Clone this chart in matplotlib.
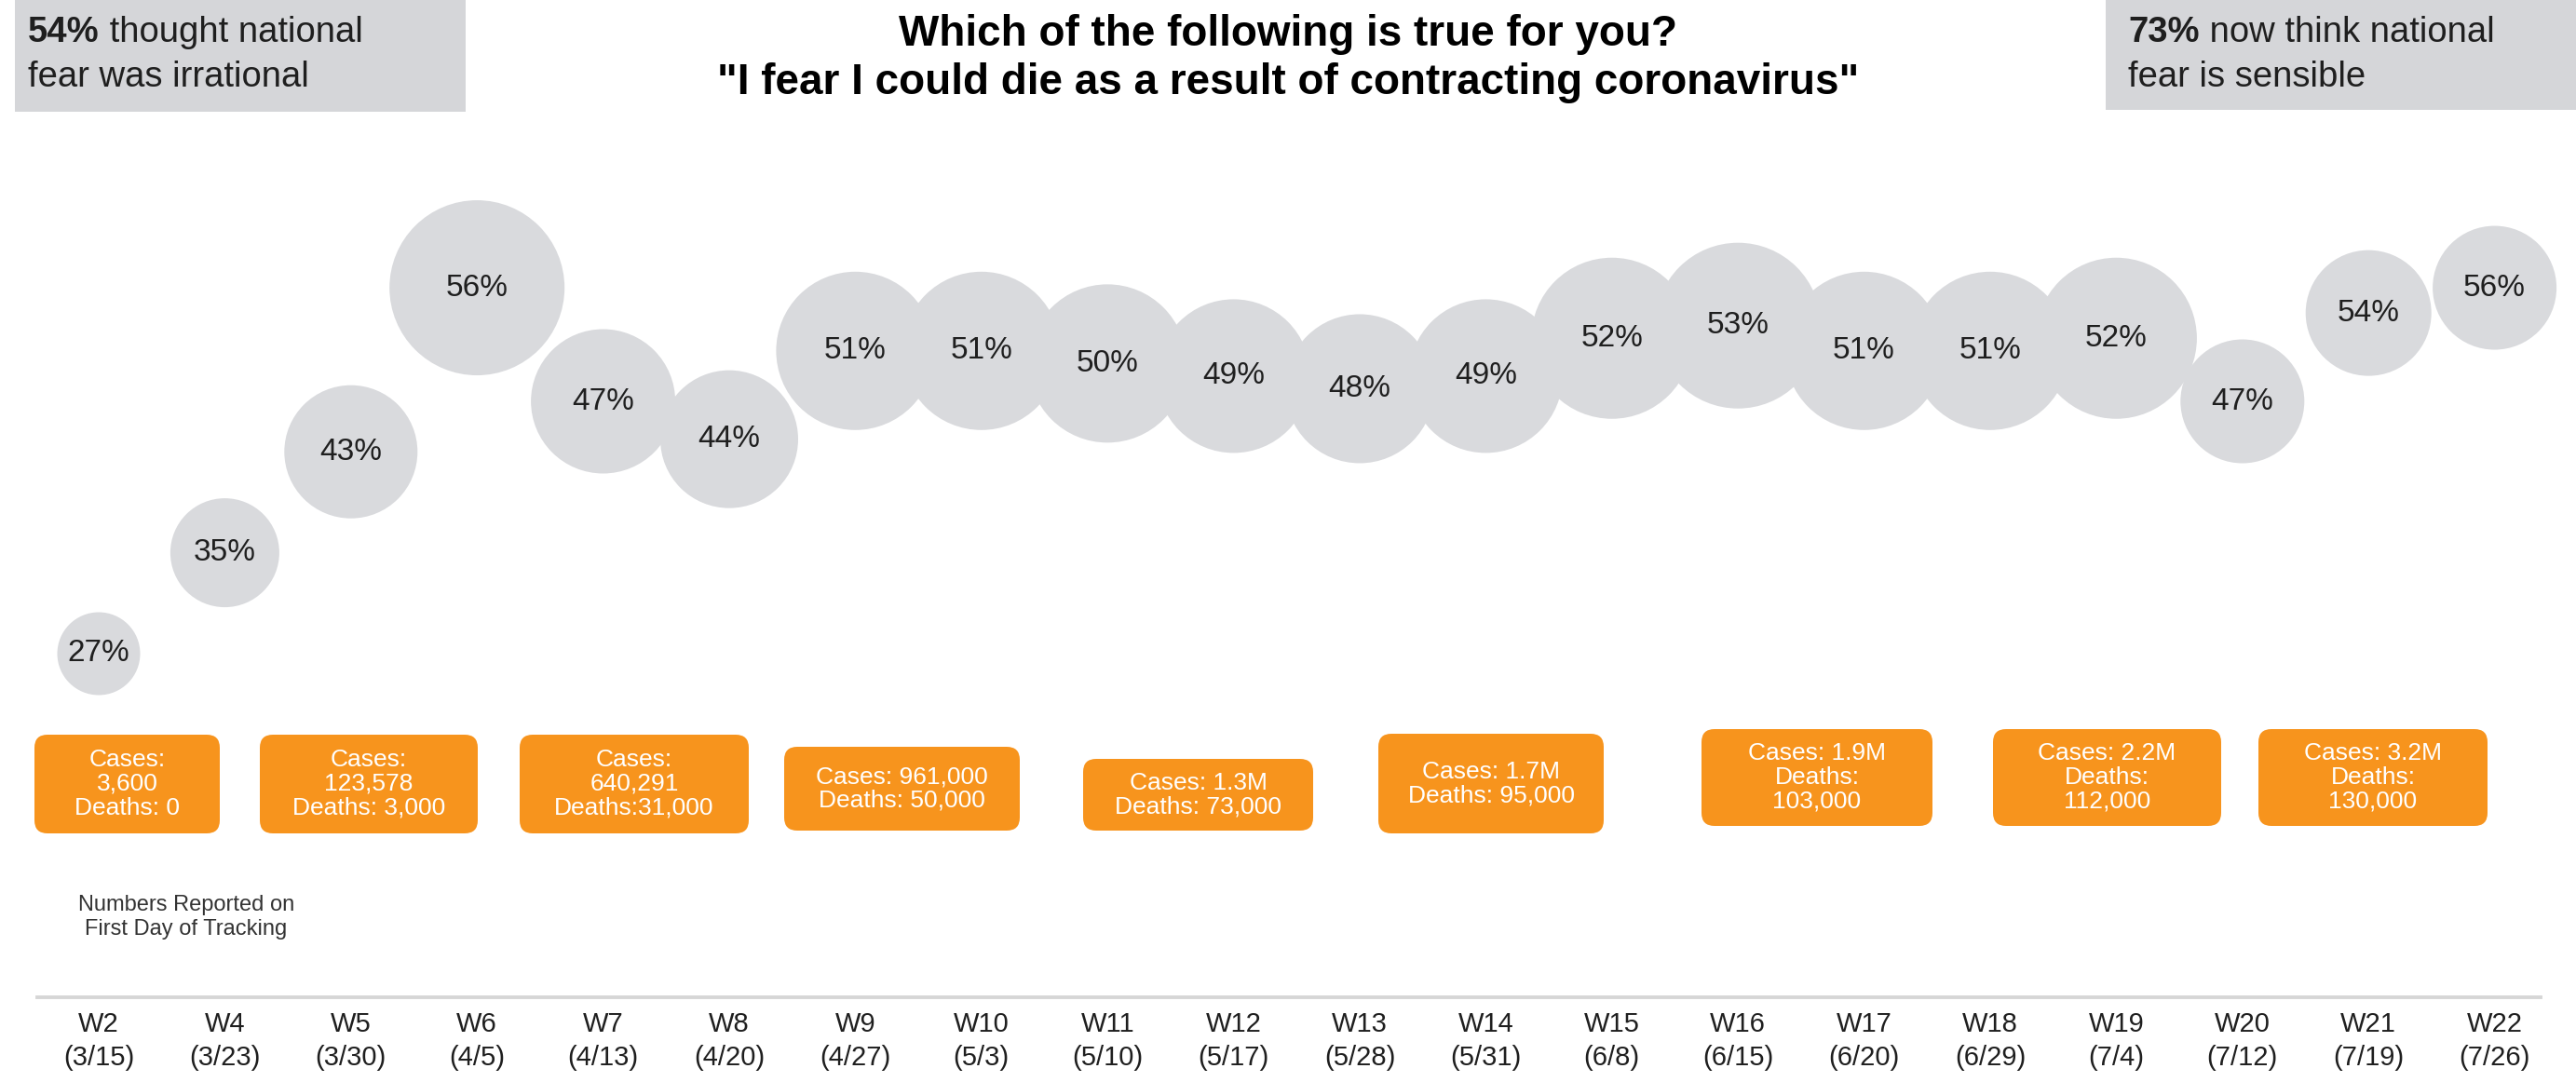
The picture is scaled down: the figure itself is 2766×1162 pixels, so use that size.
import numpy as np
import matplotlib
matplotlib.use("Agg")
import matplotlib.pyplot as plt
from matplotlib import font_manager as fm
from matplotlib.patches import FancyBboxPatch, Rectangle
from matplotlib.lines import Line2D

# ---------------- data ----------------
weeks = ["W2", "W4", "W5", "W6", "W7", "W8", "W9", "W10", "W11", "W12",
         "W13", "W14", "W15", "W16", "W17", "W18", "W19", "W20", "W21", "W22"]
dates = ["(3/15)", "(3/23)", "(3/30)", "(4/5)", "(4/13)", "(4/20)", "(4/27)",
         "(5/3)", "(5/10)", "(5/17)", "(5/28)", "(5/31)", "(6/8)", "(6/15)",
         "(6/20)", "(6/29)", "(7/4)", "(7/12)", "(7/19)", "(7/26)"]
fear_pct = [27, 35, 43, 56, 47, 44, 51, 51, 50, 49,
            48, 49, 52, 53, 51, 51, 52, 47, 54, 56]

case_notes = [
    "Cases:\n3,600\nDeaths: 0",
    "Cases:\n123,578\nDeaths: 3,000",
    "Cases:\n640,291\nDeaths:31,000",
    "Cases: 961,000\nDeaths: 50,000",
    "Cases: 1.3M\nDeaths: 73,000",
    "Cases: 1.7M\nDeaths: 95,000",
    "Cases: 1.9M\nDeaths:\n103,000",
    "Cases: 2.2M\nDeaths:\n112,000",
    "Cases: 3.2M\nDeaths:\n130,000",
]

title_lines = ["Which of the following is true for you?",
               "\"I fear I could die as a result of contracting coronavirus\""]
left_note = ("54%", " thought national", "fear was irrational")
right_note = ("73%", " now think national", "fear is sensible")
footnote = "Numbers Reported on\nFirst Day of Tracking"

# ---------------- styling / layout ----------------
W, H, DPI = 2766, 1162, 100
BUBBLE = "#d9dadd"
PANEL = "#d5d6d9"
ORANGE = "#f7941d"
INK = "#1f1f1f"

# bubble diameters in pixels
bubble_diam_px = [89, 117, 143, 188, 155, 148, 170, 170, 170, 165,
                  160, 165, 173, 178, 170, 170, 173, 133, 135, 133]

# orange note boxes: (left, right, top, bottom) in pixels from top-left
note_boxes = [(37, 236, 789, 895), (279, 513, 789, 895), (558, 804, 789, 895),
              (842, 1095, 802, 892), (1163, 1410, 815, 892), (1480, 1722, 788, 895),
              (1827, 2075, 783, 887), (2140, 2385, 783, 887), (2425, 2671, 783, 887)]


def font_available(name):
    try:
        fm.findfont(fm.FontProperties(family=name), fallback_to_default=False)
        return True
    except ValueError:
        return False


BASE = "Liberation Sans"
HAS_NARROW = font_available("Liberation Sans Narrow")
COND = "Liberation Sans Narrow" if HAS_NARROW else BASE
plt.rcParams["font.family"] = [BASE, "DejaVu Sans"]

fig = plt.figure(figsize=(W / DPI, H / DPI), dpi=DPI)
fig.patch.set_facecolor("white")

# data axes: x = survey wave index, y = percent
x0_px, step_px = 106, 135.4          # first wave centre and spacing
y27_px, px_per_pct = 702, 13.55      # vertical placement of the scale
ax = fig.add_axes([0, 0, 1, 1])
ax.set_xlim(-x0_px / step_px, (W - x0_px) / step_px)
ax.set_ylim(27 - (H - y27_px) / px_per_pct, 27 + y27_px / px_per_pct)
ax.axis("off")

xs = np.arange(len(fear_pct))
sizes = (np.array(bubble_diam_px) * 72.0 / DPI) ** 2
ax.scatter(xs, fear_pct, s=sizes, color=BUBBLE, edgecolors="none", zorder=2)
for x, v in zip(xs, fear_pct):
    ax.text(x, v, f"{v}%", ha="center", va="center", fontsize=24,
            color=INK, zorder=3)

# layout overlay in pixel units (y downwards)
lay = fig.add_axes([0, 0, 1, 1])
lay.set_xlim(0, W)
lay.set_ylim(H, 0)
lay.axis("off")
lay.patch.set_alpha(0)

# title
tsize = 38 if HAS_NARROW else 33
lay.text(1383, 49, title_lines[0], ha="center", va="baseline", fontsize=tsize,
         fontweight="bold", family=[COND, "DejaVu Sans"], color="black")
lay.text(1383, 101, title_lines[1], ha="center", va="baseline", fontsize=tsize,
         fontweight="bold", family=[COND, "DejaVu Sans"], color="black")

# grey side panels
lay.add_patch(Rectangle((16, 0), 500 - 16, 120, color=PANEL, lw=0))
lay.add_patch(Rectangle((2261, 0), W - 2261, 118, color=PANEL, lw=0))


def panel_text(x, y1, y2, note):
    bold, rest, line2 = note
    t = lay.text(x, y1, bold, ha="left", va="baseline", fontsize=27.5,
                 fontweight="bold", color=INK)
    lay.annotate(rest, xy=(1, 0), xycoords=t, ha="left", va="bottom",
                 fontsize=27.5, color=INK, annotation_clip=False)
    lay.text(x, y2, line2, ha="left", va="baseline", fontsize=27.5, color=INK)


panel_text(30, 45, 93, left_note)
panel_text(2285, 45, 93, right_note)

# orange case / death boxes
for (l, r, t, b), note in zip(note_boxes, case_notes):
    lay.add_patch(FancyBboxPatch((l, t), r - l, b - t,
                                 boxstyle="round,pad=0,rounding_size=14",
                                 fc=ORANGE, ec="none"))
    lay.text((l + r) / 2, (t + b) / 2, note, ha="center", va="center",
             fontsize=19, linespacing=1.1, color="white")

lay.text(200, 985, footnote, ha="center", va="center", fontsize=17,
         linespacing=1.25, color="#333333")

# baseline rule and wave labels
lay.add_line(Line2D([40, 2728], [1071, 1071], color="#d6d6d6", lw=2.8))
tick_tf = matplotlib.transforms.blended_transform_factory(ax.transData, lay.transData)
for x, wk, dt in zip(xs, weeks, dates):
    ax.text(x, 1100, wk, transform=tick_tf, ha="center", va="center",
            fontsize=21, color=INK)
    ax.text(x, 1136, dt, transform=tick_tf, ha="center", va="center",
            fontsize=21, color=INK)

fig.savefig("out.png", dpi=DPI, facecolor="white")
